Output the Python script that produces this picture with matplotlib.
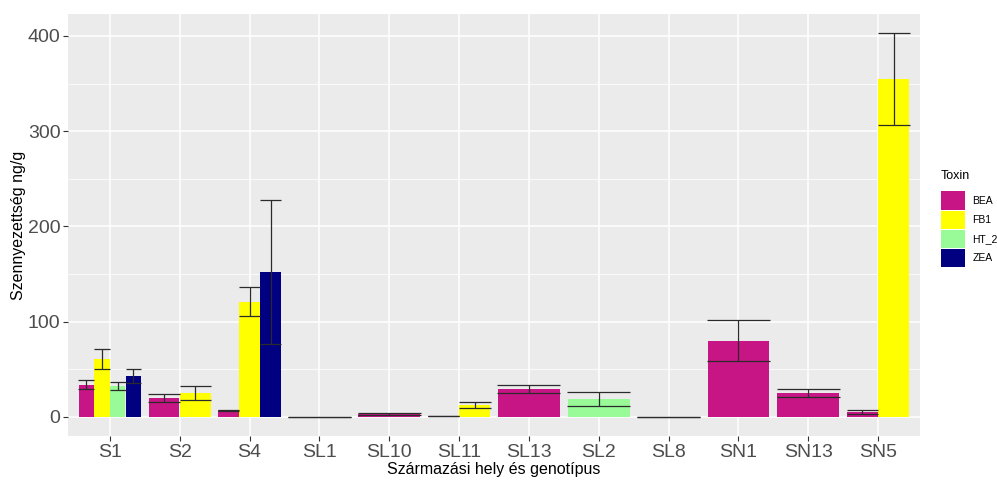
import numpy as np
import matplotlib.pyplot as plt
from matplotlib.patches import Patch
from matplotlib.ticker import MultipleLocator

plt.rcParams['font.family'] = ['Liberation Sans', 'DejaVu Sans']

# Adatok
groups = ['S1', 'S2', 'S4', 'SL1', 'SL10', 'SL11', 'SL13', 'SL2', 'SL8', 'SN1', 'SN13', 'SN5']
bar_group = ['S1', 'S1', 'S1', 'S1', 'S2', 'S2', 'S4', 'S4', 'S4', 'SL1', 'SL10',
             'SL11', 'SL11', 'SL13', 'SL2', 'SL8', 'SN1', 'SN13', 'SN5', 'SN5']
bar_toxin = ['BEA', 'FB1', 'HT_2', 'ZEA', 'BEA', 'FB1', 'BEA', 'FB1', 'ZEA', 'BEA', 'BEA',
             'BEA', 'FB1', 'BEA', 'HT_2', 'BEA', 'BEA', 'BEA', 'BEA', 'FB1']
bar_mean = [34, 61, 32.5, 43, 19.5, 25, 7, 121, 152, 0, 3,
            1, 12.5, 29.5, 18.5, 0, 80, 25, 5, 355]
bar_err = [4.3, 10.3, 4.7, 7.8, 4.2, 7.7, 0.5, 15, 75.5, 0, 0.8,
           0.3, 3.3, 4.5, 7.5, 0, 21.5, 4.3, 2.2, 48]

toxins = ['BEA', 'FB1', 'HT_2', 'ZEA']
colors = {'BEA': '#C71585', 'FB1': '#FFFF00', 'HT_2': '#98FB98', 'ZEA': '#000080'}

fig = plt.figure(figsize=(9.97, 4.8), dpi=100)
ax = fig.add_axes([68 / 997, 1 - 436 / 480, (920 - 68) / 997, (436 - 14) / 480])
ax.set_facecolor('#EBEBEB')

total_w = 0.9
for gi, g in enumerate(groups):
    idx = [i for i, bg in enumerate(bar_group) if bg == g]
    n = len(idx)
    w = total_w / n
    for k, i in enumerate(idx):
        x = gi - total_w / 2 + w * (k + 0.5)
        m, e = bar_mean[i], bar_err[i]
        ax.bar(x, m, width=w * 0.98, color=colors[bar_toxin[i]], zorder=2)
        ax.vlines(x, m - e, m + e, color='#2b2b2b', lw=0.9, zorder=3)
        ax.hlines([m - e, m + e], x - w / 2, x + w / 2, color='#2b2b2b', lw=0.9, zorder=3)

ax.set_xlim(-0.6, len(groups) - 0.4)
ax.set_ylim(-20, 423)
ax.set_xticks(range(len(groups)))
ax.set_xticklabels(groups)
ax.yaxis.set_major_locator(MultipleLocator(100))
ax.yaxis.set_minor_locator(MultipleLocator(50))
ax.grid(which='major', color='white', lw=1.1, zorder=0)
ax.grid(which='minor', axis='y', color='white', lw=0.55, zorder=0)
ax.set_axisbelow(True)
for s in ax.spines.values():
    s.set_visible(False)
ax.tick_params(which='major', length=3.5, color='#333333', labelcolor='#4D4D4D',
               labelsize=14, pad=2)
ax.tick_params(which='minor', length=0)

ax.set_xlabel('Származási hely és genotípus', fontsize=11.5, labelpad=1)
ax.set_ylabel('Szennyezettség ng/g', fontsize=11.5, labelpad=1)

handles = [Patch(facecolor=colors[t], label=t) for t in toxins]
leg = fig.legend(handles=handles, title='Toxin', loc='center left',
                 bbox_to_anchor=(937 / 997, 0.545), frameon=False, fontsize=7.5,
                 title_fontsize=9, handlelength=2.3, handleheight=2.3,
                 labelspacing=0.1, handletextpad=0.7, borderaxespad=0)
leg._legend_box.align = 'left'
leg._legend_box.sep = 7

plt.savefig('out.png', dpi=100)
